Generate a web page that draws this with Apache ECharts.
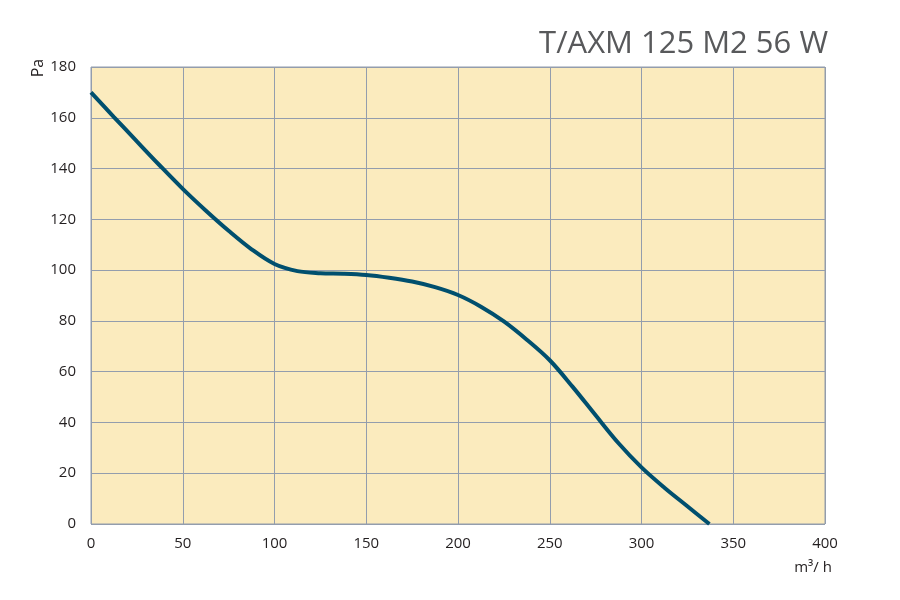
<!DOCTYPE html>
<html>
<head>
<meta charset="utf-8">
<title>T/AXM 125 M2 56 W</title>
<script src="https://cdn.jsdelivr.net/npm/echarts@6/dist/echarts.min.js"></script>
<style>
  html, body { margin: 0; padding: 0; background: #fff; }
  #chart { width: 900px; height: 600px; }
</style>
</head>
<body>
<div id="chart"></div>
<script>
// airflow (m3/h) vs pressure (Pa)
const flow = [0, 12.5, 25, 37.5, 50, 62.5, 75, 87.5, 100, 112.5, 125, 137.5, 150, 162.5, 175, 187.5, 200, 212.5, 225, 237.5, 250, 262.5, 275, 287.5, 300, 312.5, 325, 337]
const pressure = [170, 160.3, 150.7, 141.2, 132, 123.5, 115.5, 108.2, 102.4, 99.6, 98.8, 98.6, 98.1, 97, 95.5, 93.3, 90.2, 85.6, 79.8, 72.6, 64.5, 54, 42.8, 31.8, 22.3, 14.3, 7, 0]
const xTicks = [0, 50, 100, 150, 200, 250, 300, 350, 400]
const yTicks = [0, 20, 40, 60, 80, 100, 120, 140, 160, 180]

const gridColor = '#939dad'
const labelFont = { color: '#231f20', fontSize: 15, fontFamily: 'Open Sans' }

const chart = echarts.init(document.getElementById('chart'))
const option = {
  animation: false,
  title: {
    text: 'T/AXM 125 M2 56 W',
    right: 67,
    top: 24,
    textStyle: { color: '#58595b', fontSize: 31, fontWeight: 'normal', fontFamily: 'Open Sans' }
  },
  grid: {
    left: 91, right: 75, top: 67, bottom: 76,
    show: true,
    backgroundColor: '#fbebbe',
    borderColor: gridColor,
    borderWidth: 1
  },
  xAxis: {
    type: 'value',
    min: xTicks[0],
    max: xTicks[xTicks.length - 1],
    interval: 50,
    axisLine: { show: false },
    axisTick: { show: false },
    axisLabel: Object.assign({ margin: 12 }, labelFont),
    splitLine: { lineStyle: { color: gridColor, width: 1 } }
  },
  yAxis: {
    type: 'value',
    min: yTicks[0],
    max: yTicks[yTicks.length - 1],
    interval: 20,
    axisLine: { show: false },
    axisTick: { show: false },
    axisLabel: Object.assign({ margin: 15 }, labelFont),
    splitLine: { lineStyle: { color: gridColor, width: 1 } }
  },
  graphic: [
    {
      type: 'text',
      x: 38, y: 68,
      rotation: Math.PI / 2,
      style: { text: 'Pa', fill: '#231f20', font: '16px "Open Sans"', textAlign: 'center', textVerticalAlign: 'middle' }
    },
    {
      type: 'text',
      x: 813, y: 568,
      style: { text: 'm³/ h', fill: '#231f20', font: '15px "Open Sans"', textAlign: 'center', textVerticalAlign: 'middle' }
    }
  ],
  series: [{
    type: 'line',
    data: flow.map((f, i) => [f, pressure[i]]),
    smooth: 0.35,
    showSymbol: false,
    lineStyle: { color: '#004f6e', width: 4 }
  }]
}
chart.setOption(option)
</script>
</body>
</html>
